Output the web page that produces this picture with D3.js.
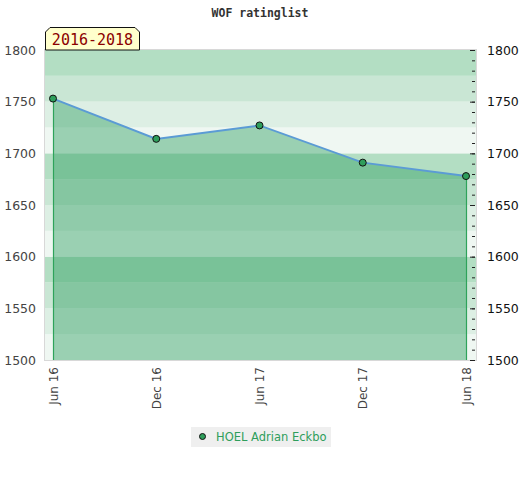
<!DOCTYPE html>
<html>
<head>
<meta charset="utf-8">
<script src="https://cdn.jsdelivr.net/npm/d3@7"></script>
<style>
    body { margin: 0; background: #fff; }
    svg { display: block; }
</style>
</head>
<body>
<div id="chart"></div>
<script>

// Chart data
var periods = ['Jun 16', 'Dec 16', 'Jun 17', 'Dec 17', 'Jun 18'];
var ratings = [1753, 1714, 1727, 1691, 1678];
var playerName = 'HOEL Adrian Eckbo';
var chartTitle = 'WOF ratinglist';
var rangeLabel = '2016-2018';
var yTicks = [1500, 1550, 1600, 1650, 1700, 1750, 1800];
var bandColors = ['#eff7f2', '#ddefe4', '#c9e6d4', '#b3dec3'];

var width = 520;
var height = 480;
var plot = {left: 45, right: 476, top: 50, bottom: 360};

var svg = d3.select('#chart').append('svg')
    .attr('width', width)
    .attr('height', height);

var xScale = d3.scalePoint()
    .domain(periods)
    .range([53, 466]);

var yScale = d3.scaleLinear()
    .domain([1500, 1800])
    .range([plot.bottom, plot.top]);

// Background bands, 25 points each
var bands = d3.range(1500, 1800, 25);
svg.append('g').selectAll('rect')
    .data(bands).enter()
    .append('rect')
        .attr('x', plot.left)
        .attr('width', plot.right - plot.left)
        .attr('y', d => yScale(d + 25))
        .attr('height', d => yScale(d) - yScale(d + 25))
        .attr('fill', d => bandColors[((d - 1500) / 25) % 4]);

// Plot frame
svg.append('rect')
    .attr('x', plot.left - 0.5)
    .attr('y', plot.top - 0.5)
    .attr('width', plot.right - plot.left + 1)
    .attr('height', plot.bottom - plot.top + 1)
    .attr('fill', 'none')
    .attr('stroke', '#d8d8d8');

var series = periods.map((p, i) => ({period: p, rating: ratings[i]}));

// Area below the line
var area = d3.area()
    .x(d => xScale(d.period))
    .y0(yScale(1500))
    .y1(d => yScale(d.rating));

svg.append('path')
    .datum(series)
    .attr('d', area)
    .attr('fill', 'rgb(50,160,100)')
    .attr('fill-opacity', 0.45);

// Edge lines of the area
var first = series[0];
var last = series[series.length - 1];
[first, last].forEach(d => {
    svg.append('line')
        .attr('x1', xScale(d.period) + 0.5)
        .attr('x2', xScale(d.period) + 0.5)
        .attr('y1', yScale(d.rating))
        .attr('y2', yScale(1500))
        .attr('stroke', '#2ea35a')
        .attr('stroke-width', 1.2);
});

var line = d3.line()
    .x(d => xScale(d.period))
    .y(d => yScale(d.rating));

svg.append('path')
    .datum(series)
    .attr('d', line)
    .attr('fill', 'none')
    .attr('stroke', '#5b9bd5')
    .attr('stroke-width', 2);

svg.append('g').selectAll('circle')
    .data(series).enter()
    .append('circle')
        .attr('cx', d => xScale(d.period))
        .attr('cy', d => yScale(d.rating))
        .attr('r', 3.5)
        .attr('fill', '#2e9e5b')
        .attr('stroke', '#111')
        .attr('stroke-width', 1);

var fmt = d3.format('d');

// Left axis (labels only)
var leftAxis = svg.append('g')
    .attr('transform', 'translate(' + plot.left + ',0)')
    .call(d3.axisLeft(yScale).tickValues(yTicks).tickFormat(fmt).tickSize(0).tickPadding(9));
leftAxis.select('.domain').remove();
leftAxis.selectAll('text')
    .attr('font-family', 'DejaVu Sans')
    .attr('font-size', 12.5)
    .attr('fill', '#444');

// Right axis with minor ticks drawn inside the plot
var minorTicks = d3.range(1500, 1801, 10);
var rightMinor = svg.append('g')
    .attr('transform', 'translate(' + (plot.right - 1) + ',0)')
    .call(d3.axisLeft(yScale).tickValues(minorTicks).tickSize(3).tickFormat(''));
rightMinor.select('.domain').remove();
rightMinor.selectAll('line').attr('stroke', '#222');

var rightAxis = svg.append('g')
    .attr('transform', 'translate(' + (plot.right - 1) + ',0)')
    .call(d3.axisRight(yScale).tickValues(yTicks).tickFormat(fmt).tickSize(-5).tickPadding(12));
rightAxis.select('.domain').remove();
rightAxis.selectAll('line').attr('stroke', '#222');
rightAxis.selectAll('text')
    .attr('font-family', 'DejaVu Sans')
    .attr('font-size', 12.5)
    .attr('fill', '#111');

// Bottom axis, rotated labels
var bottomAxis = svg.append('g')
    .attr('transform', 'translate(0,' + plot.bottom + ')')
    .call(d3.axisBottom(xScale).tickSize(0));
bottomAxis.select('.domain').remove();
bottomAxis.selectAll('text')
    .attr('font-family', 'DejaVu Sans')
    .attr('font-size', 12)
    .attr('fill', '#444')
    .attr('text-anchor', 'end')
    .attr('dy', '0.35em')
    .attr('transform', 'translate(0,7) rotate(-90)')
    .attr('x', 0)
    .attr('y', 0);

// Title
svg.append('text')
    .attr('x', 260)
    .attr('y', 17)
    .attr('text-anchor', 'middle')
    .attr('font-family', 'DejaVu Sans Mono')
    .attr('font-weight', 'bold')
    .attr('font-size', 11.5)
    .attr('fill', '#333')
    .text(chartTitle);

// Range badge with chamfered top corners
var bx0 = 45, bx1 = 140, by0 = 27, by1 = 50, cut = 5;
svg.append('path')
    .attr('d', 'M' + (bx0 + 0.5) + ',' + by1 + ' L' + (bx0 + 0.5) + ',' + (by0 + cut)
        + ' L' + (bx0 + cut) + ',' + (by0 + 0.5) + ' L' + (bx1 - cut) + ',' + (by0 + 0.5)
        + ' L' + (bx1 - 0.5) + ',' + (by0 + cut) + ' L' + (bx1 - 0.5) + ',' + by1 + ' Z')
    .attr('fill', '#ffffcc')
    .attr('stroke', '#111')
    .attr('stroke-width', 1);

svg.append('text')
    .attr('x', (bx0 + bx1) / 2)
    .attr('y', 45)
    .attr('text-anchor', 'middle')
    .attr('font-family', 'DejaVu Sans Mono')
    .attr('font-size', 15)
    .attr('fill', '#8b0000')
    .text(rangeLabel);

// Legend
var legend = svg.append('g');
legend.append('rect')
    .attr('x', 191)
    .attr('y', 427)
    .attr('width', 140)
    .attr('height', 20)
    .attr('fill', '#efefef');
legend.append('circle')
    .attr('cx', 202.5)
    .attr('cy', 436.5)
    .attr('r', 3)
    .attr('fill', '#2e9e5b')
    .attr('stroke', '#111');
legend.append('text')
    .attr('x', 216)
    .attr('y', 441)
    .attr('font-family', 'DejaVu Sans')
    .attr('font-size', 11.5)
    .attr('fill', '#2e9e5b')
    .text(playerName);

</script>
</body>
</html>
